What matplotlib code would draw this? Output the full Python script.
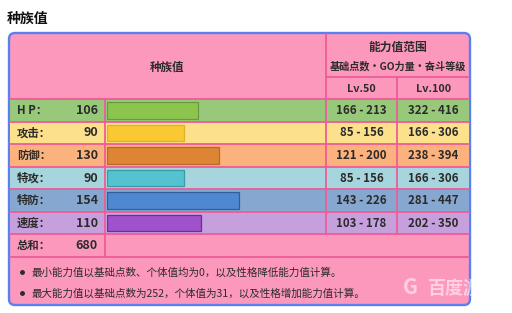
import numpy as np
import matplotlib
matplotlib.use("Agg")
import matplotlib.pyplot as plt
from matplotlib.patches import Rectangle, FancyBboxPatch

plt.rcParams['font.family'] = ['Noto Sans CJK SC', 'DejaVu Sans']

# data
stat_names = ['H P：', '攻击：', '防御：', '特攻：', '特防：', '速度：']
base_values = [106, 90, 130, 90, 154, 110]
total_value = 680
lv50_ranges = ['166 - 213', '85 - 156', '121 - 200', '85 - 156', '143 - 226', '103 - 178']
lv100_ranges = ['322 - 416', '166 - 306', '238 - 394', '166 - 306', '281 - 447', '202 - 350']
notes = ['最小能力值以基础点数、个体值均为0，以及性格降低能力值计算。',
         '最大能力值以基础点数为252，个体值为31，以及性格增加能力值计算。']

row_bg = ['#98c97b', '#fde08c', '#fcb27c', '#a6d5dd', '#86a7cf', '#c6a0dc']
bar_colors = ['#8bc54e', '#f9c832', '#de8535', '#55c2cf', '#4f88d0', '#a052cc']
bar_edges = ['#6b9a3c', '#e0b028', '#b86a28', '#3a9aa8', '#2f5f9f', '#6a3090']

pink = '#fd98bd'
line_pink = '#ee5c98'
text_col = '#2b2b2b'

W, H = 512, 313
fig = plt.figure(figsize=(W / 100, H / 100), dpi=100)
ax = fig.add_axes([0, 0, 1, 1])
ax.set_xlim(0, W)
ax.set_ylim(H, 0)
ax.axis('off')

# layout in pixels
x0, x1 = 9, 470
y0, y1 = 33, 305
x_lab, x_bar, x_r1, x_r2 = 105, 107, 326, 397
y_sub = 77
row_edges = np.linspace(99, 257, 8)

ax.text(7, 19, '种族值', fontsize=10, fontweight='bold', color='#111111', va='center')

box = FancyBboxPatch((x0, y0), x1 - x0, y1 - y0, boxstyle='round,pad=0,rounding_size=6',
                     facecolor=pink, edgecolor='#5b7ff0', lw=1.7, zorder=1)
ax.add_patch(box)

# row backgrounds
for i in range(6):
    ax.add_patch(Rectangle((x0 + 1, row_edges[i]), x1 - x0 - 2, row_edges[i + 1] - row_edges[i],
                           facecolor=row_bg[i], edgecolor='none', zorder=2))

# grid lines
lk = dict(color=line_pink, lw=1.3, zorder=3)
for y in row_edges:
    ax.plot([x0 + 1, x1 - 1], [y, y], **lk)
ax.plot([x_r1, x1 - 1], [y_sub, y_sub], **lk)
ax.plot([x_r1, x_r1], [y0 + 1, row_edges[6]], **lk)
ax.plot([x_r2, x_r2], [y_sub, row_edges[6]], **lk)
ax.plot([x_lab, x_lab], [row_edges[0], row_edges[7]], **lk)

# header
hk = dict(fontweight='bold', color=text_col, ha='center', va='center', zorder=4)
ax.text((x0 + x_r1) / 2, 67, '种族值', fontsize=8.3, **hk)
ax.text((x_r1 + x1) / 2, 47, '能力值范围', fontsize=8.5, **hk)
ax.text((x_r1 + x1) / 2, 66, '基础点数・GO力量・奋斗等级', fontsize=7.3, **hk)
ax.text((x_r1 + x_r2) / 2, 89, 'Lv.50', fontsize=7.8, **hk)
ax.text((x_r2 + x1) / 2, 89, 'Lv.100', fontsize=7.8, **hk)

# rows
centers = (row_edges[:-1] + row_edges[1:]) / 2
for i in range(6):
    c = centers[i]
    ax.text(17, c, stat_names[i], fontsize=8.2, fontweight='bold', color=text_col, va='center', zorder=4)
    ax.text(98, c, str(base_values[i]), fontsize=9, fontweight='bold', color=text_col,
            ha='right', va='center', zorder=4)
    ax.text((x_r1 + x_r2) / 2, c, lv50_ranges[i], fontsize=8.3, fontweight='bold', color=text_col,
            ha='center', va='center', zorder=4)
    ax.text((x_r2 + x1) / 2, c, lv100_ranges[i], fontsize=8.3, fontweight='bold', color=text_col,
            ha='center', va='center', zorder=4)
ax.text(17, centers[6], '总和：', fontsize=8.2, fontweight='bold', color=text_col, va='center', zorder=4)
ax.text(98, centers[6], str(total_value), fontsize=9, fontweight='bold', color=text_col,
        ha='right', va='center', zorder=4)

# notes
for j, note in enumerate(notes):
    y = 272 + j * 21
    ax.plot(22, y, 'o', ms=2.5, color=text_col, zorder=4)
    ax.text(32, y, note, fontsize=7.6, color=text_col, va='center', zorder=4)

# watermark, clipped to the box
wm1 = ax.text(403, 288, 'G', fontsize=15, fontweight='bold', color='white', alpha=0.55,
              va='center', zorder=5)
wm2 = ax.text(428, 288, '百度游', fontsize=13, fontweight='bold', color='white', alpha=0.55,
              va='center', zorder=5)
for t in (wm1, wm2):
    t.set_clip_path(box)

# bar axes
bx = fig.add_axes([x_bar / W, 1 - row_edges[6] / H, (x_r1 - x_bar) / W, (row_edges[6] - row_edges[0]) / H])
bx.patch.set_alpha(0)
bx.set_xlim(0, 255)
bx.set_ylim(5.5, -0.5)
bx.axis('off')
bx.barh(range(6), base_values, height=0.74, color=bar_colors, edgecolor=bar_edges, lw=0.9)

fig.savefig('out.png', dpi=100)
